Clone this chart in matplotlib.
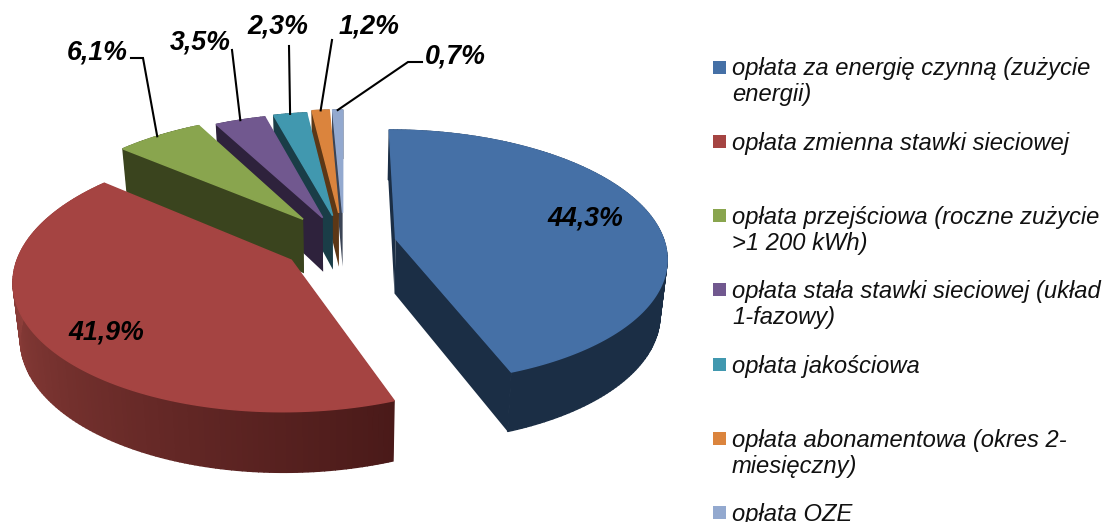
import numpy as np
from matplotlib import pyplot as plt
from matplotlib.colors import to_rgb
from matplotlib.patches import Rectangle

# Chart data
categories = [
    'opłata za energię czynną (zużycie\nenergii)',
    'opłata zmienna stawki sieciowej',
    'opłata przejściowa (roczne zużycie\n>1 200 kWh)',
    'opłata stała stawki sieciowej (układ\n1-fazowy)',
    'opłata jakościowa',
    'opłata abonamentowa (okres 2-\nmiesięczny)',
    'opłata OZE',
]
shares = [44.3, 41.9, 6.1, 3.5, 2.3, 1.2, 0.7]
share_labels = ['44,3%', '41,9%', '6,1%', '3,5%', '2,3%', '1,2%', '0,7%']

# Slice styles
explode = [0.196, 0.235, 0.25, 0.224, 0.23, 0.25, 0.25]
top_colors = ['#4570A6', '#A54442', '#89A54E', '#71588F', '#4198AF', '#DB843D', '#93A9CF']
side_colors = ['#1B2E45', '#8F3F3B', '#3A441E', '#2E223C', '#1A3D47', '#5C3716', '#3B4455']
SIDE_END_RED = '#4A1A19'

# Projection settings, output is in image pixels
CX, CY = 344, 243
SCALE_X, SCALE_Y = 269, 125
PERSPECTIVE = 0.14
DEPTH = 55
DEPTH_TILT = 5
BOTTOM_SHRINK = 0.978

# Label settings: label centre and the elbow points of the leader
label_pos = [(585, 218), (106, 332), (97, 52), (200, 42), (278, 27), (369, 26), (455, 56)]
leader_pos = [None, None, [(131, 58), (143, 58)], [(232, 50)], [(289, 46)], [(332, 40)],
              [(422, 62), (408, 62)]]
FONT = 'Liberation Sans'


def project(x, y, bottom=False):
    w = 1 + PERSPECTIVE * y
    sx = SCALE_X * x / w
    sy = CY - SCALE_Y * y / w
    if bottom:
        sx = sx * BOTTOM_SHRINK
        sy = sy + DEPTH - DEPTH_TILT * y
    return CX + sx, sy


def slice_outline(start, end, offset):
    # angles are degrees clockwise from the top of the pie
    mid = np.radians((start + end) / 2)
    ox, oy = offset * np.sin(mid), offset * np.cos(mid)
    theta = np.radians(np.linspace(start, end, max(int(end - start), 2) + 1))
    return ox, oy, ox + np.sin(theta), oy + np.cos(theta)


def wall(rx, ry):
    top = np.array(project(rx, ry)).T
    low = np.array(project(rx, ry, True)).T
    return np.vstack([top, low[::-1]])


def draw_slice(ax, start, end, offset, top_color, side_color, zorder, side_end=None):
    ox, oy, rx, ry = slice_outline(start, end, offset)

    # radial faces first
    for px, py in ((rx[0], ry[0]), (rx[-1], ry[-1])):
        face = wall(np.array([ox, px]), np.array([oy, py]))
        color = side_end if side_end and px == rx[0] else side_color
        ax.fill(face[:, 0], face[:, 1], color=color, lw=0, zorder=zorder)

    # outer wall, one piece per step. The pieces overlap a bit through their edge
    # so no seams show, and the outline stays right where the rims cross
    n = len(rx) - 1
    for i in range(n):
        color = side_color
        if side_end:
            c1, c2 = np.array(to_rgb(side_color)), np.array(to_rgb(side_end))
            t = np.clip((270 - (start + (end - start) * i / n)) / (270 - start), 0, 1)
            color = tuple(c1 + (c2 - c1) * t)
        face = wall(rx[i:i + 2], ry[i:i + 2])
        ax.fill(face[:, 0], face[:, 1], facecolor=color, edgecolor=color, lw=1.0, zorder=zorder)

    # top, with an edge of its own colour so the wall pieces do not peek out behind it
    tx, ty = project(np.r_[ox, rx], np.r_[oy, ry])
    ax.fill(tx, ty, facecolor=top_color, edgecolor=top_color, lw=1.1, zorder=zorder)
    return project(rx[n // 2], ry[n // 2])


def main():
    figure = plt.figure(figsize=(11.06, 5.22), dpi=100)
    ax = figure.add_axes([0, 0, 1, 1])
    ax.set_xlim(0, 1106)
    ax.set_ylim(522, 0)
    ax.axis('off')

    edges = 360 * np.cumsum([0] + shares) / sum(shares)
    rim = {}
    # small slices at the back go first, the big front ones cover them
    for z, i in enumerate([6, 5, 4, 3, 2, 0, 1]):
        side_end = SIDE_END_RED if i == 1 else None
        rim[i] = draw_slice(ax, edges[i], edges[i + 1], explode[i],
                            top_colors[i], side_colors[i], z + 2, side_end)

    for i, text in enumerate(share_labels):
        ax.text(label_pos[i][0], label_pos[i][1], text, fontsize=19.3, family=FONT,
                style='italic', weight='bold', ha='center', va='center', color='black',
                zorder=50)
        if leader_pos[i]:
            pts = leader_pos[i] + [rim[i]]
            ax.plot([p[0] for p in pts], [p[1] for p in pts], color='black', lw=1.5,
                    solid_joinstyle='miter', zorder=40)

    # Legend
    for i, text in enumerate(categories):
        y = 67 + 74.3 * i
        ax.add_patch(Rectangle((713, y - 6.5), 13, 13, facecolor=top_colors[i], edgecolor='none'))
        ax.text(732, y - 9.5, text, fontsize=17.15, family=FONT, style='italic', ha='left',
                va='top', color='#111111', linespacing=1.14, clip_on=False)

    plt.savefig('out.png', dpi=100)


if __name__ == '__main__':
    main()
